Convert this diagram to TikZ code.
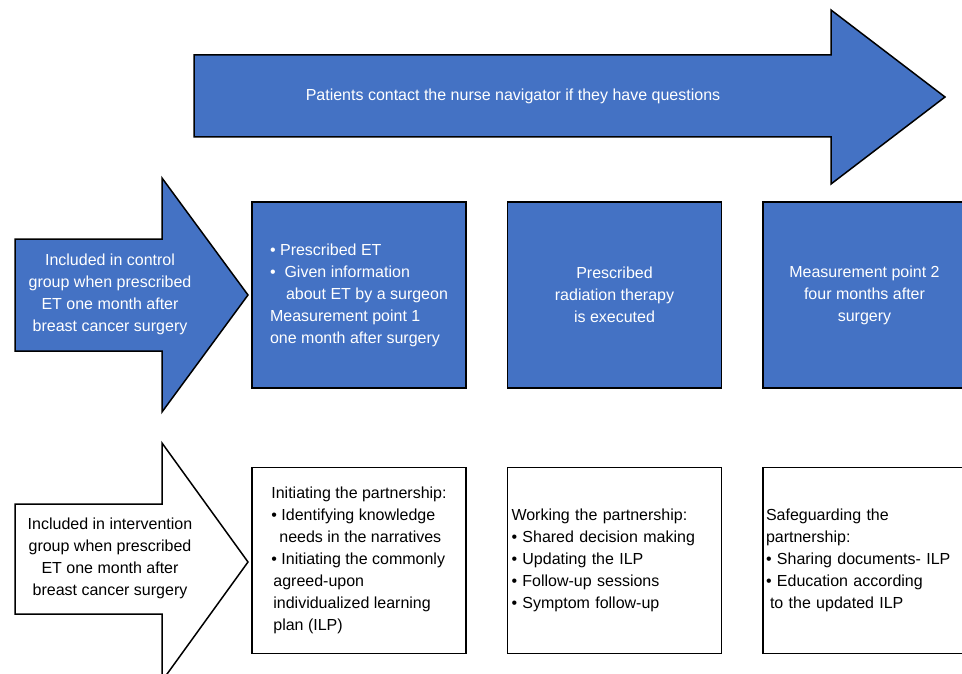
\documentclass[tikz,border=0pt]{standalone}
\usepackage{fontspec}
\setmainfont{Liberation Sans}
\usepackage{xcolor}
\usetikzlibrary{positioning}
\definecolor{navblue}{HTML}{4472C4}

\begin{document}
\begin{tikzpicture}[
  x=1pt,
  y=-1pt,
  node distance=40pt,
  every node/.style={font=\fontsize{16}{22}\selectfont},
  box/.style={
    draw,
    rectangle,
    line width=1.5pt,
    minimum width=214pt,
    minimum height=186pt,
    inner sep=0pt
  },
  bluebox/.style={box, fill=navblue, text=white},
  whitebox/.style={box, fill=white},
  bigarrow/.style={draw, line width=1.5pt, line join=miter}
]
\useasboundingbox (0,0) rectangle (962,674);
% arrow shapes
\draw[bigarrow, fill=navblue] (194,55) -- (831,55) -- (831,10) -- (945,97)
  -- (831,184) -- (831,137) -- (194,137) -- cycle;
\draw[bigarrow, fill=navblue] (15,239) -- (162,239) -- (162,178) -- (248,295)
  -- (162,412) -- (162,351) -- (15,351) -- cycle;
\draw[bigarrow, fill=white] (15,504) -- (162,504) -- (162,443) -- (248,562)
  -- (162,681) -- (162,614) -- (15,614) -- cycle;
\node[text=white] (contact) at (513,96)
  {Patients contact the nurse navigator if they have questions};
\node[text=white, align=center] (control) at (110,294) {Included in control\\
  group when prescribed\\
  ET one month after\\
  breast cancer surgery};
\node[align=center] (intervention) at (110,558) {Included in intervention\\
  group when prescribed\\
  ET one month after\\
  breast cancer surgery};
% blue row
\node[bluebox, align=left] (prescribed) at (359,295) {\textbullet\ Prescribed ET\\
  \textbullet\ \ Given information\\
  \hspace*{16pt}about ET by a surgeon\\
  Measurement point 1\\
  one month after surgery};
\node[bluebox, align=center, right=of prescribed] (radiation) {Prescribed\\
  radiation therapy\\
  is executed};
\node[bluebox, align=center, minimum width=203pt, right=of radiation] (point2)
  {Measurement point 2\\
  four months after\\
  surgery};
% white row
\node[whitebox, align=left, below=78pt of prescribed] (initiating)
  {Initiating the partnership:\\
  \textbullet\ Identifying knowledge\\
  \hspace*{8pt}needs in the narratives\\
  \textbullet\ Initiating the commonly\\
  \hspace*{2pt}agreed-upon\\
  \hspace*{2pt}individualized learning\\
  \hspace*{2pt}plan (ILP)};
\node[whitebox, align=left, text width=206pt, inner xsep=4pt, right=of initiating]
  (working) {Working the partnership:\\
  \textbullet\ Shared decision making\\
  \textbullet\ Updating the ILP\\
  \textbullet\ Follow-up sessions\\
  \textbullet\ Symptom follow-up};
\node[whitebox, align=left, text width=197pt, inner xsep=3pt, minimum width=203pt,
  right=of working] (safeguarding) {Safeguarding the\\
  partnership:\\
  \textbullet\ Sharing documents- ILP\\
  \textbullet\ Education according\\
  \hspace*{4pt}to the updated ILP};
\end{tikzpicture}
\end{document}
